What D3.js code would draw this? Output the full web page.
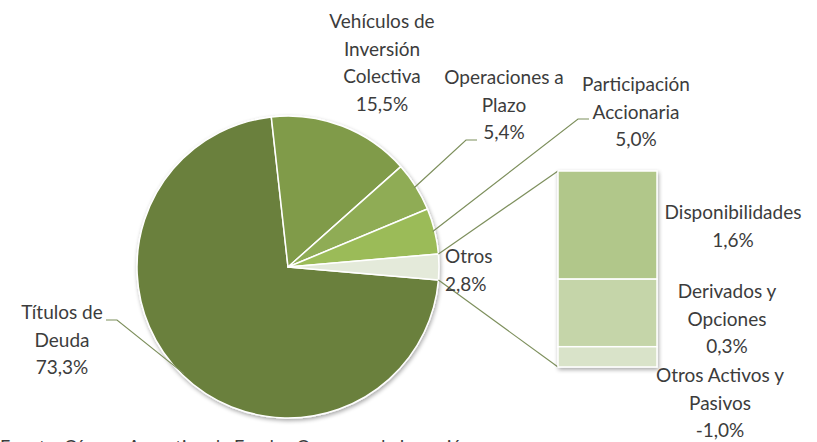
<!DOCTYPE html>
<html>
<head>
<meta charset="utf-8">
<script src="https://cdn.jsdelivr.net/npm/d3@7"></script>
<style>
  html, body { margin: 0; padding: 0; background: #ffffff; overflow: hidden; }
  svg { display: block; }
  text { font-family: "Lato", "Open Sans", sans-serif; fill: #3c3c3c; }
</style>
</head>
<body>
<svg id="chart" width="817" height="442"></svg>
<script>
// data
const pieNames = [
  ['Títulos de', 'Deuda'],
  ['Vehículos de', 'Inversión', 'Colectiva'],
  ['Operaciones a', 'Plazo'],
  ['Participación', 'Accionaria'],
  ['Otros']
];
const pieValues = [73.3, 15.5, 5.4, 5.0, 2.8];

const barNames = [
  ['Disponibilidades'],
  ['Derivados y', 'Opciones'],
  ['Otros Activos y', 'Pasivos']
];
const barValues = [1.6, 0.3, -1.0];
// segment sizes as drawn in the source bar (top to bottom)
const barSizes = [1.6, 1.0, 0.3];

const sourceNote = 'Fuente: Cámara Argentina de Fondos Comunes de Inversión';

// configs
const CX = 288, CY = 267, R = 151;
const PIE_COLORS = ['#6b803c', '#809b48', '#8fac55', '#9bbb59', '#e4eada'];
const BAR_COLORS = ['#b1c78a', '#c5d5a9', '#d9e3c9'];
const LINE_COLOR = '#7d8f5c';
const FONT_SIZE = 19;
const LINE_H = 27.5;

const fmt = v => d3.format('.1f')(v).replace('.', ',').replace('\u2212', '-') + '%';
const rad = deg => deg * Math.PI / 180;

const svg = d3.select('#chart');

// soft shadow
const defs = svg.append('defs');
const f = defs.append('filter').attr('id', 'shadow')
  .attr('x', '-20%').attr('y', '-20%').attr('width', '140%').attr('height', '140%');
f.append('feGaussianBlur').attr('in', 'SourceAlpha').attr('stdDeviation', 2).attr('result', 'b');
f.append('feOffset').attr('in', 'b').attr('dx', 1).attr('dy', 2).attr('result', 'o');
f.append('feComponentTransfer').attr('in', 'o').attr('result', 's')
  .append('feFuncA').attr('type', 'linear').attr('slope', 0.35);
const m = f.append('feMerge');
m.append('feMergeNode').attr('in', 's');
m.append('feMergeNode').attr('in', 'SourceGraphic');

// pie: the "Otros" slice is centred on 3 o'clock
const total = d3.sum(pieValues);
const otrosSpan = 360 * pieValues[4] / total;
const startDeg = 90 + otrosSpan / 2;

const pie = d3.pie().sort(null).value(d => d)
  .startAngle(rad(startDeg)).endAngle(rad(startDeg + 360));
const arcs = pie(pieValues);
const arc = d3.arc().innerRadius(0).outerRadius(R);

const pieG = svg.append('g').attr('transform', `translate(${CX},${CY})`);
pieG.append('g').attr('filter', 'url(#shadow)')
  .selectAll('path').data(arcs).join('path')
  .attr('d', arc)
  .attr('fill', (d, i) => PIE_COLORS[i])
  .attr('stroke', '#ffffff')
  .attr('stroke-width', 1.5)
  .attr('stroke-linejoin', 'round');

// bar of "Otros"
const BAR_X = 558, BAR_W = 99, BAR_TOP = 171, BAR_BOT = 367;
const y = d3.scaleLinear().domain([0, d3.sum(barSizes)]).range([BAR_TOP, BAR_BOT]);
const cum = d3.cumsum(barSizes);
const segs = barSizes.map((v, i) => ({ y0: i ? cum[i - 1] : 0, y1: cum[i] }));

// connector lines
const oa = arcs[4];
const pt = (a, r) => [CX + r * Math.sin(a), CY - r * Math.cos(a)];
const top0 = pt(oa.startAngle, R), bot0 = pt(oa.endAngle, R);
svg.append('line').attr('x1', top0[0]).attr('y1', top0[1])
  .attr('x2', BAR_X).attr('y2', y(0))
  .attr('stroke', LINE_COLOR).attr('stroke-width', 1.2);
svg.append('line').attr('x1', bot0[0]).attr('y1', bot0[1])
  .attr('x2', BAR_X).attr('y2', y(d3.sum(barSizes)))
  .attr('stroke', LINE_COLOR).attr('stroke-width', 1.2);

svg.append('g').attr('filter', 'url(#shadow)')
  .selectAll('rect').data(segs).join('rect')
  .attr('x', BAR_X).attr('width', BAR_W)
  .attr('y', d => y(d.y0)).attr('height', d => y(d.y1) - y(d.y0))
  .attr('fill', (d, i) => BAR_COLORS[i])
  .attr('stroke', '#ffffff').attr('stroke-width', 1.5);

// labels
function label(lines, x, yFirst, anchor) {
  const t = svg.append('text')
    .attr('text-anchor', anchor || 'middle')
    .attr('font-size', FONT_SIZE);
  lines.forEach((s, i) => {
    t.append('tspan').attr('x', x).attr('y', yFirst + i * LINE_H).text(s);
  });
  return t;
}

// label anchors (first baseline) for each pie slice
const pieLabelPos = [
  { x: 62, y: 319, anchor: 'middle' },
  { x: 382, y: 28, anchor: 'middle' },
  { x: 504, y: 84, anchor: 'middle' },
  { x: 636, y: 91, anchor: 'middle' },
  { x: 445, y: 263, anchor: 'start' }
];
pieNames.forEach((n, i) => {
  const p = pieLabelPos[i];
  label(n.concat([fmt(pieValues[i])]), p.x, p.y, p.anchor);
});

const barLabelPos = [
  { x: 733, y: 219 },
  { x: 727, y: 298 },
  { x: 720, y: 382 }
];
barNames.forEach((n, i) => {
  const p = barLabelPos[i];
  label(n.concat([fmt(barValues[i])]), p.x, p.y, 'middle');
});

// leader lines: short horizontal tick next to label, then to slice mid-arc
const leaders = [
  { i: 0, hx0: 106, hx1: 117, hy: 320 },
  { i: 2, hx0: 477, hx1: 466, hy: 140 },
  { i: 3, hx0: 589, hx1: 578, hy: 119 }
];
leaders.forEach(l => {
  const a = arcs[l.i];
  const mid = (a.startAngle + a.endAngle) / 2;
  const p = pt(mid, R - 2);
  svg.append('polyline')
    .attr('points', [[l.hx0, l.hy], [l.hx1, l.hy], p].map(q => q.join(',')).join(' '))
    .attr('fill', 'none')
    .attr('stroke', LINE_COLOR).attr('stroke-width', 1.2);
});

// source note, cut off at the bottom edge as in the source image
svg.append('text').attr('x', 0).attr('y', 453)
  .attr('font-size', FONT_SIZE - 1).text(sourceNote);
</script>
</body>
</html>
